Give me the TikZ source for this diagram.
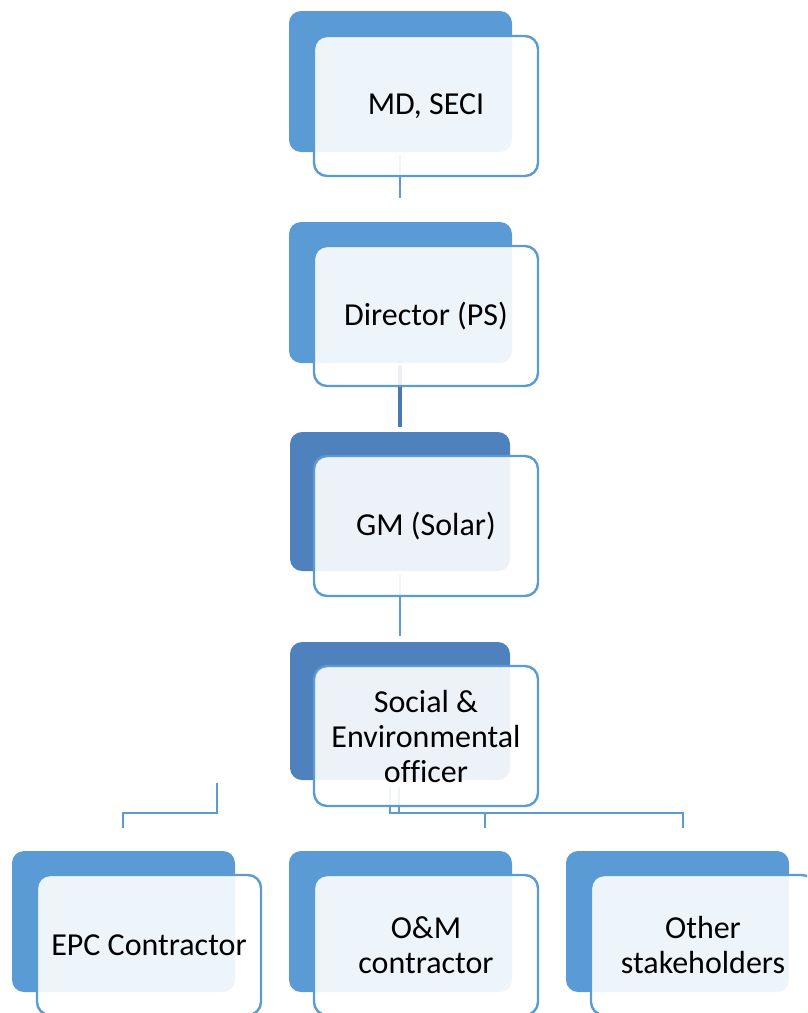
\documentclass[tikz,border=0pt]{standalone}
\usepackage{fontspec}
\setmainfont[Ligatures=NoCommon]{Carlito}
\definecolor{backblue}{HTML}{5B9BD5}
\definecolor{darkblue}{HTML}{4F81BD}
\definecolor{lineblue}{HTML}{5B9BD5}
\definecolor{thickblue}{HTML}{4A78B4}
\begin{document}
\begin{tikzpicture}[x=1pt,y=-1pt,
  backbox/.style={fill=backblue, rounded corners=12pt, minimum width=223pt, minimum height=141pt, anchor=north west, inner sep=0pt, outer sep=0pt},
  darkback/.style={backbox, fill=darkblue},
  frontbox/.style={draw=backblue, line width=2.4pt, fill=white, fill opacity=0.9, text opacity=1, rounded corners=13pt, minimum width=224pt, minimum height=140pt, anchor=north west, align=center, inner sep=0pt, outer sep=0pt, font=\fontsize{32}{35}\selectfont, text=black},
  conn/.style={draw=lineblue, line width=2.2pt},
  thickconn/.style={draw=thickblue, line width=4pt}]
\useasboundingbox (0,0) rectangle (807,1013);
\clip (0,0) rectangle (807,1013);
% back boxes
\node[backbox] (b1) at (289,11) {};
\node[backbox] (b2) at (289,222) {};
\node[darkback, minimum width=220pt, minimum height=139pt] (b3) at (290,432) {};
\node[darkback, minimum width=220pt, minimum height=138pt] (b4) at (290,642) {};
\node[backbox] (b5) at (12,851) {};
\node[backbox] (b6) at (289,851) {};
\node[backbox] (b7) at (566,851) {};
% connector end points
\coordinate (c1a) at (400,155); \coordinate (c1b) at (400,198);
\coordinate (c2a) at (400,365); \coordinate (c2b) at (400,427);
\coordinate (c3a) at (400,575); \coordinate (c3b) at (400,636);
\coordinate (c4a) at (390,787); \coordinate (c4b) at (485,828);
\coordinate (c5a) at (399,787); \coordinate (c5b) at (683,828);
\coordinate (c6a) at (217,783); \coordinate (c6b) at (123,828);
\coordinate (hy) at (0,813);
% connectors
\draw[conn] (c1a) -- (c1b);
\draw[thickconn] (c2a) -- (c2b);
\draw[conn] (c3a) -- (c3b);
\draw[conn] (c4a) -- (c4a |- hy) -- (c4b |- hy) -- (c4b);
\draw[conn] (c5a) -- (c5a |- hy) -- (c5b |- hy) -- (c5b);
\draw[conn] (c6a) -- (c6a |- hy) -- (c6b |- hy) -- (c6b);
% front boxes
\node[frontbox] (md) at (314,36) {MD, SECI};
\node[frontbox] (dir) at (314,246) {Director (PS)};
\node[frontbox] (gm) at (314,456) {GM (Solar)};
\node[frontbox] (seo) at (314,666) {Social \&\\Environmental\\officer};
\node[frontbox] (epc) at (37,875) {EPC Contractor};
\node[frontbox] (om) at (314,875) {O\&M\\contractor};
\node[frontbox] (oth) at (591,875) {Other\\stakeholders};
\end{tikzpicture}
\end{document}
